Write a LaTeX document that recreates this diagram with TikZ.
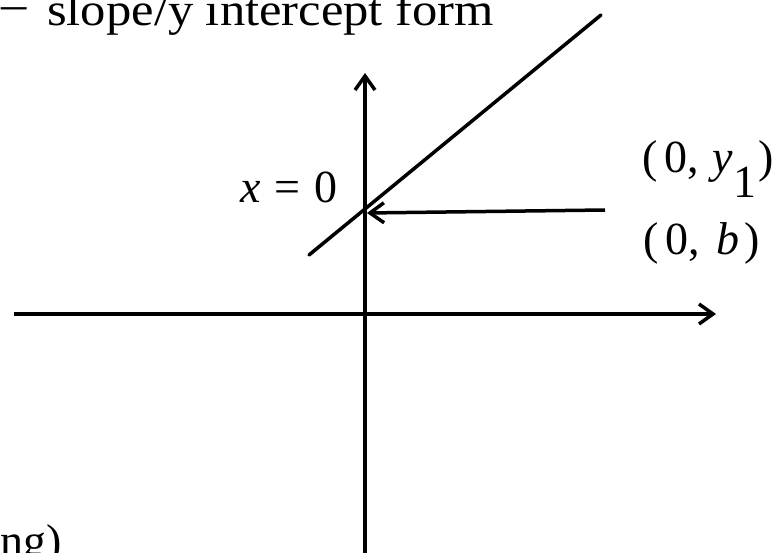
\documentclass[tikz,border=0pt]{standalone}
\usepackage{fontspec}
\setmainfont{Liberation Serif}
\newfontfamily\widefont[FakeStretch=1.1]{Liberation Serif}
\usetikzlibrary{arrows.meta}
\begin{document}
\begin{tikzpicture}[x=1pt,y=-1pt,
  ax/.style={line width=3.5pt, -{Straight Barb[length=14pt,width=20pt,line width=3.5pt]}},
  ln/.style={line width=3.5pt},
  lab/.style={font=\fontsize{46}{50}\selectfont, inner sep=0pt}]
\useasboundingbox (0,0) rectangle (780,553);
\clip (0,0) rectangle (780,553);
\coordinate (xs) at (14,314); \coordinate (xe) at (716,314);
\coordinate (ys) at (365,560); \coordinate (ye) at (365,73);
\coordinate (ls) at (309,255); \coordinate (le) at (601,15);
\coordinate (as) at (605,210); \coordinate (ae) at (367,213);
\draw[ax] (xs) -- (xe);
\draw[ax] (ys) -- (ye);
\draw[ln, line cap=round] (ls) -- (le);
\draw[ax] (as) -- (ae);
\node[lab, anchor=base west] (title) at (47,26) {\widefont\llap{\raisebox{6pt}{–}\hspace{20pt}}slope/y intercept form};
\node[lab, anchor=base west] (xeq) at (240,203) {\itshape x\upshape\hspace{0.3em}=\hspace{0.3em}0};
\node[lab, anchor=base west] (p1) at (642,173) {(\hspace{0.15em}0,\hspace{0.3em}{\itshape y}\raisebox{-25pt}{1}\hspace{0.05em})};
\node[lab, anchor=base west] (p2) at (643,255) {(\hspace{0.15em}0,\hspace{0.35em}{\itshape b}\hspace{0.12em})};
\node[lab, anchor=base east] (ng) at (62,556) {ng)};
\end{tikzpicture}
\end{document}
